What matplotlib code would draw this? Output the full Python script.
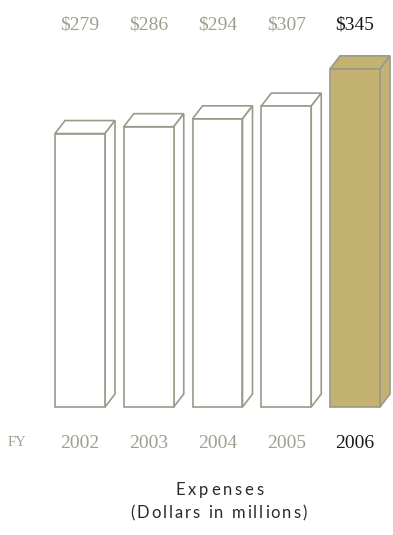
import matplotlib
matplotlib.use("Agg")
import matplotlib.pyplot as plt
from matplotlib.patches import Polygon
from matplotlib.transforms import blended_transform_factory

years = ["2002", "2003", "2004", "2005", "2006"]
values = [279, 286, 294, 307, 345]
value_labels = ["$279", "$286", "$294", "$307", "$345"]
fy_label = "FY"
title = "Expenses"
subtitle = "(Dollars in millions)"

W, H = 393, 535
fig = plt.figure(figsize=(W / 100, H / 100), dpi=100)
ax = fig.add_axes([0, 0, 1, 1])
ax.set_xlim(-1.1636, 4.5527)
ax.set_ylim(-130.6, 415.3)
ax.axis("off")

edge = "#9a9a8a"
gold = "#c4b272"
grey_text = "#a09e8e"
width = 0.727
dx, dy = 0.1455, 13.3

x = list(range(len(values)))
for i, v in enumerate(values):
    face = gold if i == len(values) - 1 else "white"
    l, r = i - width / 2, i + width / 2
    top = Polygon([(l, v), (l + dx, v + dy), (r + dx, v + dy), (r, v)],
                  closed=True, facecolor=face, edgecolor=edge, lw=1.2, zorder=2)
    side = Polygon([(r, v), (r + dx, v + dy), (r + dx, dy), (r, 0)],
                   closed=True, facecolor=face, edgecolor=edge, lw=1.2, zorder=2)
    ax.add_patch(top)
    ax.add_patch(side)
ax.bar(x, values, width=width,
       color=["white"] * 4 + [gold], edgecolor=edge, linewidth=1.2, zorder=3)

tr = blended_transform_factory(ax.transData, fig.transFigure)
serif = ["Liberation Serif", "DejaVu Serif"]
for i, (lab, yr) in enumerate(zip(value_labels, years)):
    last = i == len(values) - 1
    c = "#1a1a1a" if last else grey_text
    ax.text(i, 1 - 25 / H, lab, transform=tr, ha="center", va="center",
            fontsize=14, color=c, family=serif)
    ax.text(i, 1 - 443 / H, yr, transform=tr, ha="center", va="center",
            fontsize=14, color=c, family=serif)
fig.text(17 / W, 1 - 443 / H, fy_label, ha="center", va="center",
         fontsize=10.5, color=grey_text, family=serif)

renderer = fig.canvas.get_renderer()


def spaced_text(xc_px, yc_px, s, spacing_px, **kw):
    objs, widths = [], []
    probe = fig.text(0, 0, "n", **kw)
    space_w = probe.get_window_extent(renderer).width * 0.5
    probe.remove()
    for ch in s:
        t = fig.text(0, 1 - yc_px / H, ch, ha="left", va="center", **kw)
        w = space_w if ch == " " else t.get_window_extent(renderer).width
        objs.append(t)
        widths.append(w)
    total = sum(widths) + spacing_px * (len(s) - 1)
    xpos = xc_px - total / 2
    for t, w in zip(objs, widths):
        t.set_x(xpos / W)
        xpos += w + spacing_px


sans = dict(fontsize=12, color="#2a2a2a", family=["Lato", "DejaVu Sans"])
spaced_text(219.5, 490, title, 2.8, **sans)
spaced_text(218.5, 513, subtitle, 1.9, **sans)

fig.savefig("out.png", dpi=100)
